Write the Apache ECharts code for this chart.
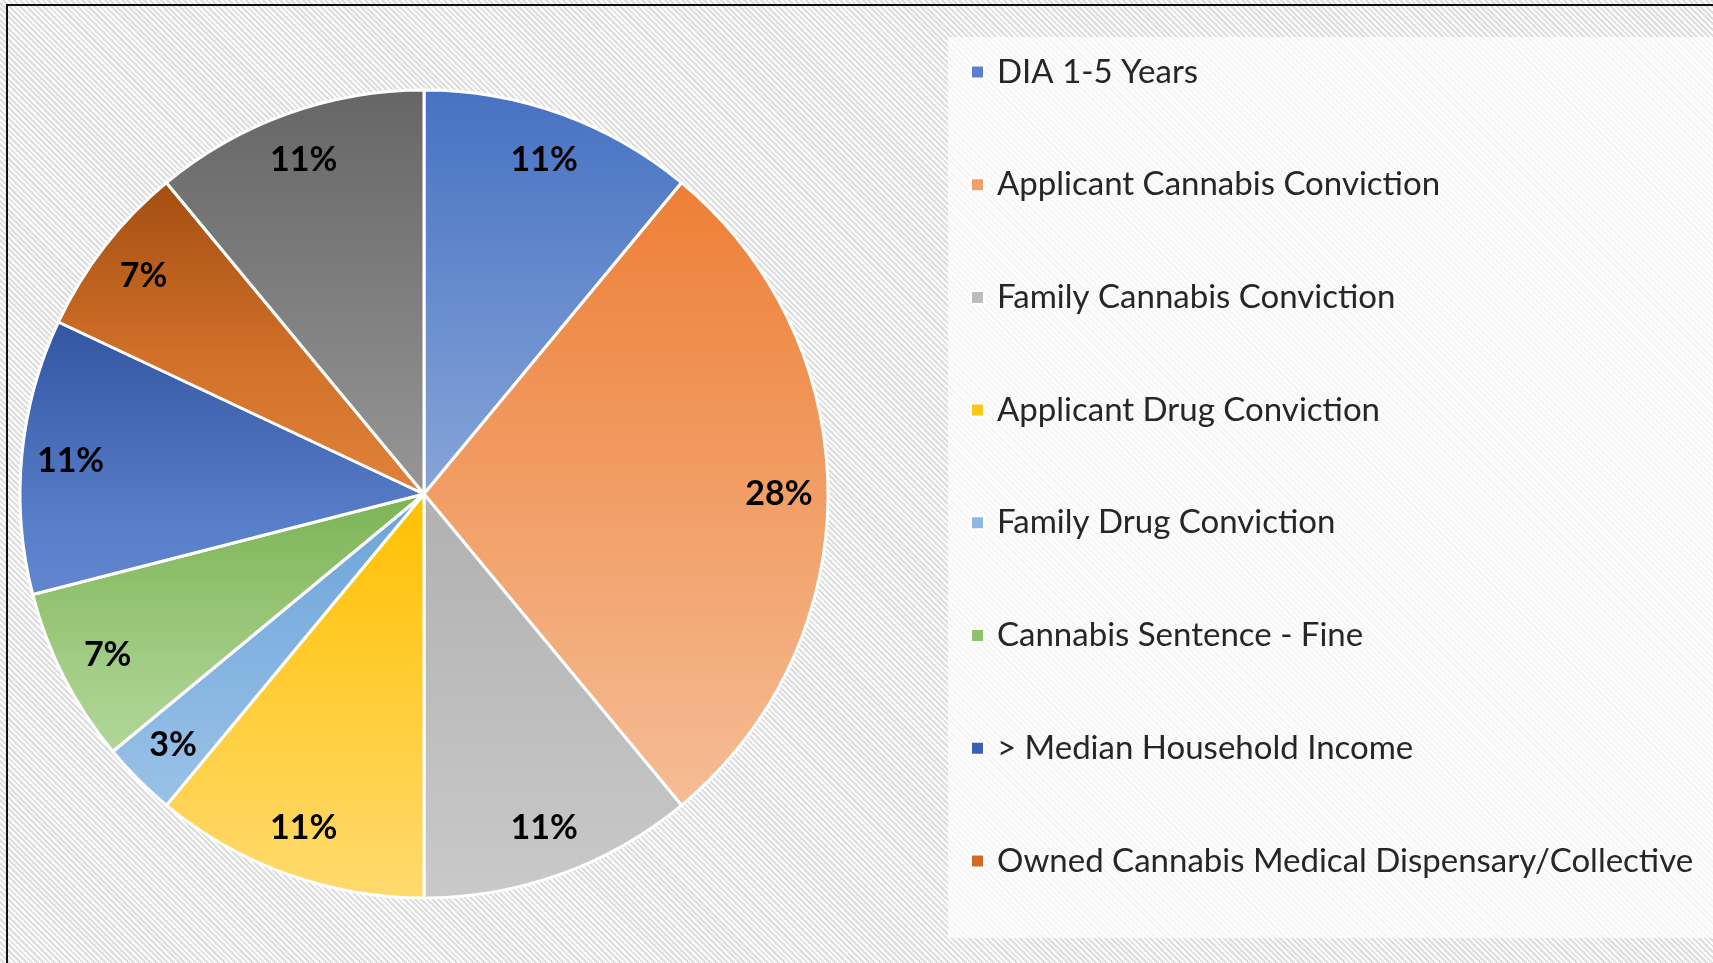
<!DOCTYPE html>
<html>
<head>
<meta charset="utf-8">
<script src="https://cdn.jsdelivr.net/npm/echarts@6/dist/echarts.min.js"></script>
<style>
  html, body { margin: 0; padding: 0; }
  #wrap { position: relative; width: 1713px; height: 963px; overflow: hidden;
    background: repeating-linear-gradient(45deg, #fbfbfb 0px, #fbfbfb 2px, #dedede 2px, #dedede 4px); }
  #box { position: absolute; left: 948px; top: 37px; width: 800px; height: 901px; background: rgba(255,255,255,0.72); }
  #frame { position: absolute; left: 6px; top: 4px; width: 1800px; height: 1100px; border: 2px solid #111; }
  #chart { position: absolute; left: 0; top: 0; width: 1713px; height: 963px; }
</style>
</head>
<body>
<div id="wrap">
  <div id="box"></div>
  <div id="frame"></div>
  <div id="chart"></div>
</div>
<script>
// ---- Data ----
const categories = [
  'DIA 1-5 Years',
  'Applicant Cannabis Conviction',
  'Family Cannabis Conviction',
  'Applicant Drug Conviction',
  'Family Drug Conviction',
  'Cannabis Sentence - Fine',
  '> Median Household Income',
  'Owned Cannabis Medical Dispensary/Collective',
  'Other'
];
const values = [11, 28, 11, 11, 3, 7, 11, 7, 11];
const legendNames = categories.slice(0, 8);

// ---- Styles ----
const CX = 424, CY = 494, R = 404;
const gradStops = [
  [[0, '#4672C2'], [1, '#C8D7EF']],
  [[0, '#EC7628'], [1, '#F7C6A3']],
  [[0, '#989898'], [1, '#C9C9C9']],
  [[0, '#F0A800'], [0.5, '#FFC000'], [1, '#FFDA6E']],
  [[0, '#4A8CCF'], [0.5, '#6BA3DA'], [1, '#A8CBEB']],
  [[0, '#5A9A30'], [0.45, '#72AE48'], [0.75, '#A9D18E'], [1, '#C5E0B4']],
  [[0, '#1C3A78'], [0.25, '#2D509C'], [0.55, '#5A7FCB'], [1, '#8AA6DD']],
  [[0, '#8E3E08'], [0.12, '#A64F12'], [0.35, '#D4732B'], [0.5, '#E0823A'], [1, '#F0B080']],
  [[0, '#666666'], [0.5, '#969696'], [1, '#C0C0C0']]
];
const legendColors = ['#5B80CF', '#F2A06A', '#BDBDBD', '#FFC61A', '#8DB8E2', '#8CC46A', '#3A5FB8', '#D26A22'];

function grad(stops) {
  return {
    type: 'linear', global: true, x: 0, y: CY - R, x2: 0, y2: CY + R,
    colorStops: stops.map(s => ({ offset: s[0], color: s[1] }))
  };
}

const pieData = categories.map((name, i) => ({
  name: name, value: values[i],
  itemStyle: { color: grad(gradStops[i]) }
}));
const labelData = categories.map((name, i) => ({ name: name, value: values[i] }));

const chart = echarts.init(document.getElementById('chart'), null, { renderer: 'canvas' });
chart.setOption({
  backgroundColor: 'transparent',
  animation: false,
  legend: {
    orient: 'vertical',
    left: 970,
    top: 55.5,
    padding: 0,
    itemWidth: 13,
    itemHeight: 13,
    itemGap: 79.7,
    icon: 'rect',
    selectedMode: false,
    data: legendNames.map((n, i) => ({ name: n, itemStyle: { color: legendColors[i] } })),
    textStyle: {
      fontFamily: 'Lato', fontSize: 33, color: '#262626', lineHeight: 33,
      padding: [0, 0, 0, 8]
    }
  },
  series: [
    {
      type: 'pie',
      center: [CX, CY],
      radius: [0, R],
      startAngle: 90,
      clockwise: true,
      silent: true,
      label: { show: false },
      labelLine: { show: false },
      itemStyle: { borderColor: '#ffffff', borderWidth: 3 },
      data: pieData
    },
    {
      type: 'pie',
      center: [CX, CY],
      radius: [300, R],
      startAngle: 90,
      clockwise: true,
      silent: true,
      z: 5,
      itemStyle: { color: 'rgba(0,0,0,0)', borderWidth: 0 },
      label: {
        show: true, position: 'inside',
        formatter: p => p.value + '%',
        fontFamily: 'Lato', fontWeight: 'bold', fontSize: 34, color: '#000'
      },
      labelLine: { show: false },
      data: labelData
    }
  ]
});
</script>
</body>
</html>
